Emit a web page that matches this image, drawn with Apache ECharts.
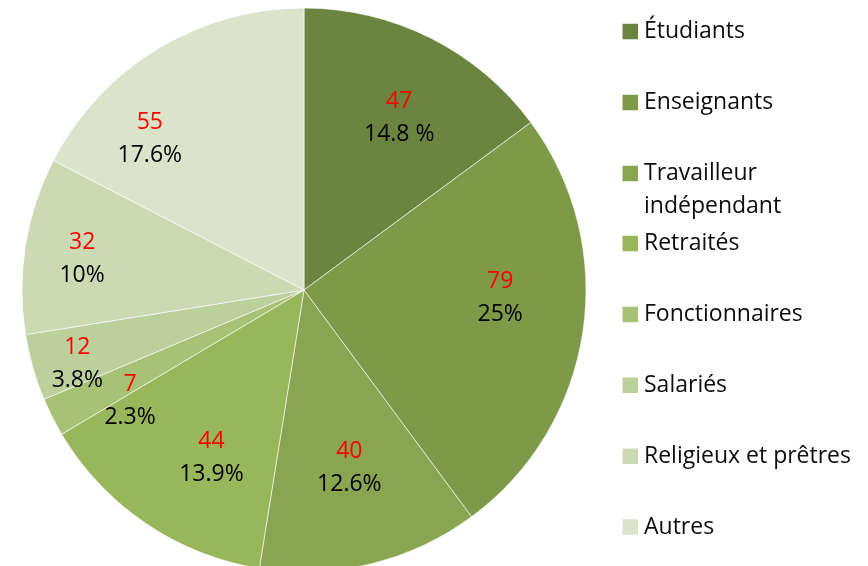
<!DOCTYPE html>
<html>
<head>
<meta charset="utf-8">
<script src="https://cdn.jsdelivr.net/npm/echarts@6/dist/echarts.min.js"></script>
<style>
  html, body { margin: 0; padding: 0; background: #fff; }
  #main { width: 868px; height: 566px; }
</style>
</head>
<body>
<div id="main"></div>
<script>
// catégories (ordre de la légende, sens horaire depuis le haut)
var categories = ['Étudiants', 'Enseignants', 'Travailleur indépendant', 'Retraités',
  'Fonctionnaires', 'Salariés', 'Religieux et prêtres', 'Autres'];
var values = [47, 79, 40, 44, 7, 12, 32, 55];
// pourcentages tels qu'affichés sur le graphique
var pctLabels = ['14.8 %', '25%', '12.6%', '13.9%', '2.3%', '3.8%', '10%', '17.6%'];
var colors = ['#6b8440', '#7e9a48', '#89a552', '#98b65a', '#a7c275', '#bcd09c', '#ccdab4', '#dbe4cb'];

var FONT = '"Open Sans", "Noto Sans", sans-serif';
var R = 282;

// petits décalages des étiquettes (placement manuel comme dans Excel)
var labelNudge = {
  'Étudiants': [5, 7],
  'Enseignants': [-2, -22],
  'Travailleur indépendant': [-2, -17],
  'Retraités': [20, 2],
  'Fonctionnaires': [5, 21],
  'Salariés': [-34, 19],
  'Religieux et prêtres': [-24, 1],
  'Autres': [-50, 20]
};

var pieData = [];
var labelData = [];
for (var i = 0; i < categories.length; i++) {
  pieData.push({ name: categories[i], value: values[i], itemStyle: { color: colors[i] } });
  labelData.push({ name: categories[i], value: values[i], label: { offset: labelNudge[categories[i]] } });
}

function legendBase(top, names) {
  return {
    orient: 'vertical',
    left: 620.5,
    top: top,
    padding: 0,
    icon: 'rect',
    itemWidth: 17.5,
    itemHeight: 17.5,
    itemGap: 46.9,
    selectedMode: false,
    data: names,
    formatter: function (name) {
      // ligne vide en tête : « Travailleur » reste en face du carré
      return name === 'Travailleur indépendant' ? '\nTravailleur\nindépendant' : name;
    },
    textStyle: { fontFamily: FONT, fontSize: 23, color: '#0d0d0d', lineHeight: 24 }
  };
}

var myChart = echarts.init(document.getElementById('main'), null, { renderer: 'canvas' });
var option = {
  backgroundColor: '#fff',
  animation: false,
  legend: [
    legendBase(19.5, categories.slice(0, 2)),
    legendBase(124, [{ name: categories[2], textStyle: { lineHeight: 33 } }]),
    legendBase(231.5, categories.slice(3))
  ],
  series: [
    {
      name: 'parts',
      type: 'pie',
      center: [304, 290],
      radius: [0, R],
      startAngle: 90,
      clockwise: true,
      silent: true,
      label: { show: false },
      labelLine: { show: false },
      itemStyle: { borderColor: '#ffffff', borderWidth: 0.6 },
      data: pieData
    },
    {
      // anneau invisible qui place les étiquettes à ~70 % du rayon
      name: 'etiquettes',
      type: 'pie',
      center: [304, 290],
      radius: [R * 0.4, R],
      startAngle: 90,
      clockwise: true,
      silent: true,
      legendHoverLink: false,
      itemStyle: { color: 'rgba(0,0,0,0)', borderWidth: 0 },
      labelLayout: { hideOverlap: false },
      label: {
        show: true,
        position: 'inside',
        formatter: function (p) {
          return '{v|' + values[p.dataIndex] + '}\n{p|' + pctLabels[p.dataIndex] + '}';
        },
        rich: {
          v: { fontFamily: FONT, fontSize: 23, color: '#ff0000', lineHeight: 33, align: 'center' },
          p: { fontFamily: FONT, fontSize: 23, color: '#000000', lineHeight: 33, align: 'center' }
        }
      },
      labelLine: { show: false },
      data: labelData
    }
  ]
};
myChart.setOption(option);
</script>
</body>
</html>
